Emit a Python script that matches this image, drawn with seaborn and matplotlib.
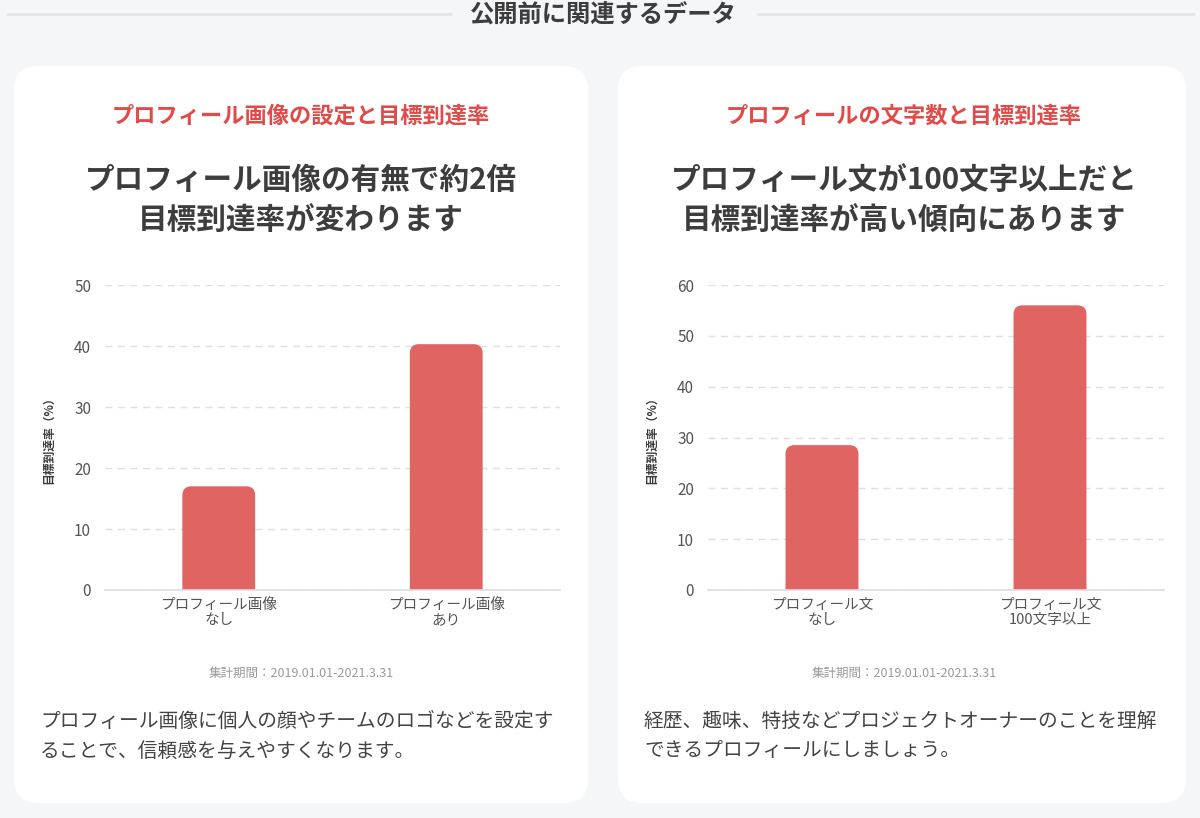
import matplotlib
matplotlib.use("Agg")
import matplotlib.pyplot as plt
import seaborn as sns
from matplotlib.patches import FancyBboxPatch
from matplotlib.ticker import MultipleLocator

# ---------------- data ----------------
page_title = "公開前に関連するデータ"

left_kicker = "プロフィール画像の設定と目標到達率"
left_heading = "プロフィール画像の有無で約2倍\n目標到達率が変わります"
left_categories = ["プロフィール画像\nなし", "プロフィール画像\nあり"]
left_values = [17.0, 40.3]
left_ymax = 50
left_body = ["プロフィール画像に個人の顔やチームのロゴなどを設定す",
             "ることで、信頼感を与えやすくなります。"]

right_kicker = "プロフィールの文字数と目標到達率"
right_heading = "プロフィール文が100文字以上だと\n目標到達率が高い傾向にあります"
right_categories = ["プロフィール文\nなし", "プロフィール文\n100文字以上"]
right_values = [28.5, 56.0]
right_ymax = 60
right_body = ["経歴、趣味、特技などプロジェクトオーナーのことを理解",
              "できるプロフィールにしましょう。"]

y_label = "目標到達率（%）"
footnote = "集計期間：2019.01.01-2021.3.31"

# ---------------- style ----------------
sns.set_theme(style="white")
plt.rcParams["font.family"] = ["Noto Sans CJK JP", "DejaVu Sans"]

BG = "#f5f6f8"
CARD = "#ffffff"
RED = "#e04a48"
BAR = "#e06461"
DARK = "#3d3d3d"
TICK = "#555555"
GRID = "#dcdfe5"
GREY = "#9a9a9a"

W, H = 1200, 818
fig = plt.figure(figsize=(W / 100, H / 100), dpi=100, facecolor=BG)

# background axes in pixel coordinates
bg = fig.add_axes([0, 0, 1, 1])
bg.set_xlim(0, W)
bg.set_ylim(H, 0)
bg.axis("off")

# page title with side rules
bg.text(603, 15, page_title, ha="center", va="center", fontsize=17.5,
        fontweight="bold", color=DARK)
bg.plot([6, 452], [14, 14], color="#e3e5e9", lw=2, solid_capstyle="butt")
bg.plot([757, 1195], [14, 14], color="#e3e5e9", lw=2, solid_capstyle="butt")

cards = [(14, 588), (618, 1186)]
for x0, x1 in cards:
    bg.add_patch(FancyBboxPatch((x0, 66), x1 - x0, 803 - 66,
                                boxstyle="round,pad=0,rounding_size=24",
                                facecolor=CARD, edgecolor="none"))


def panel(cx, card_x0, ax_x0, ax_x1, kicker, heading, cats, vals, ymax, body):
    bg.text(cx, 116, kicker, ha="center", va="center", fontsize=16,
            fontweight="bold", color=RED)
    bg.text(cx, 200, heading, ha="center", va="center", fontsize=21.3,
            fontweight="bold", color=DARK, linespacing=1.45)
    bg.text(cx, 673, footnote, ha="center", va="center", fontsize=9,
            color=GREY)
    for i, line in enumerate(body):
        bg.text(card_x0 + 26, 721 + 30 * i, line, ha="left", va="center",
                fontsize=14.2, color="#444444")

    ax = fig.add_axes([ax_x0 / W, 1 - 590 / H, (ax_x1 - ax_x0) / W, 305 / H])
    ax.set_facecolor("none")
    sns.barplot(x=cats, y=vals, ax=ax, color=BAR, width=0.32,
                saturation=1, edgecolor="none", zorder=3)
    ax.set_xlim(-0.5, 1.5)
    ax.set_ylim(0, ymax)
    ax.yaxis.set_major_locator(MultipleLocator(10))
    ax.grid(axis="y", color=GRID, linestyle=(0, (5, 4)), lw=1, zorder=0)
    ax.grid(axis="x", visible=False)
    for s in ["left", "right", "top"]:
        ax.spines[s].set_visible(False)
    ax.spines["bottom"].set_color("#dcdde2")
    ax.spines["bottom"].set_linewidth(1.2)
    ax.spines["bottom"].set_zorder(5)
    ax.tick_params(axis="y", length=0, pad=10, labelsize=11, labelcolor=TICK)
    ax.tick_params(axis="x", length=0, pad=6, labelsize=10.5, labelcolor=TICK)
    for lab in ax.get_xticklabels():
        lab.set_linespacing(1.05)
    ax.set_ylabel(y_label, fontsize=8.5, fontweight="bold", color=DARK,
                  labelpad=14)
    ax.set_xlabel("")

    # rounded tops for the bars (bottom corners hidden below the axis)
    px_x = (ax_x1 - ax_x0) / 2.0   # pixels per x data unit
    px_y = 305.0 / ymax             # pixels per y data unit
    aspect = px_x / px_y
    r_px = 9
    ext = 12 / px_y
    for p in list(ax.patches):
        x, w, h = p.get_x(), p.get_width(), p.get_height()
        rb = FancyBboxPatch((x, -ext), w, h + ext,
                            boxstyle=f"round,pad=0,rounding_size={r_px / px_x}",
                            mutation_aspect=aspect, facecolor=BAR,
                            edgecolor="none", zorder=3)
        ax.add_patch(rb)
        rb.set_clip_on(True)
        p.set_visible(False)
    return ax


panel(301, 14, 105, 560, left_kicker, left_heading, left_categories,
      left_values, left_ymax, left_body)
panel(904, 618, 708, 1164, right_kicker, right_heading, right_categories,
      right_values, right_ymax, right_body)

fig.savefig("out.png", dpi=100, facecolor=BG)
